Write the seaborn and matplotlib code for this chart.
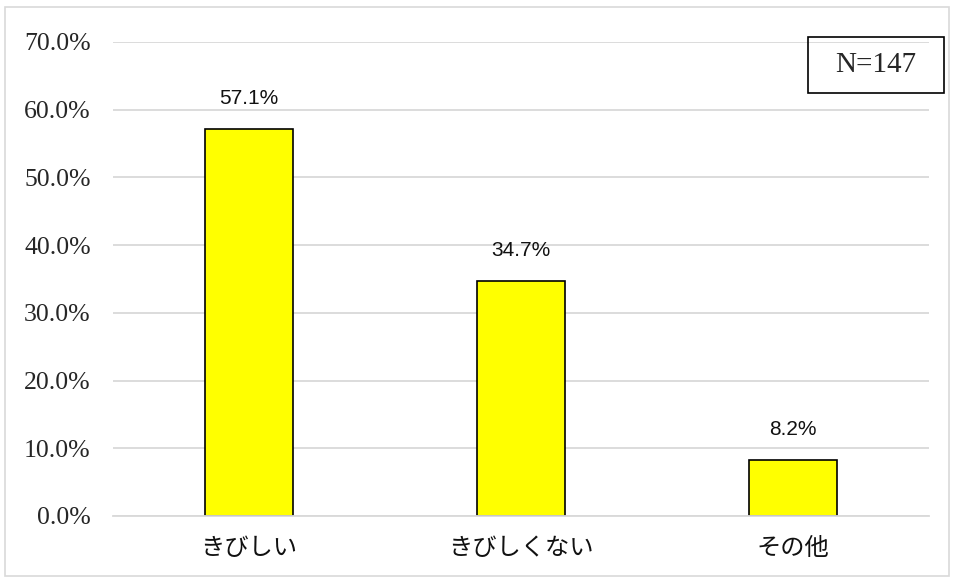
import matplotlib
matplotlib.use("Agg")
import matplotlib.pyplot as plt
import seaborn as sns
import pandas as pd
from matplotlib.patches import Rectangle

categories = ["きびしい", "きびしくない", "その他"]
values = [57.1, 34.7, 8.2]
value_labels = ["57.1%", "34.7%", "8.2%"]
yticks = [0, 10, 20, 30, 40, 50, 60, 70]
ytick_labels = ["0.0%", "10.0%", "20.0%", "30.0%", "40.0%", "50.0%", "60.0%", "70.0%"]
n_label = "N=147"

sns.set_theme(style="white")
plt.rcParams['font.family'] = ['Noto Sans CJK JP', 'DejaVu Sans']

df = pd.DataFrame({"cat": categories, "val": values})

fig = plt.figure(figsize=(9.54, 5.81), dpi=100)
W, H = 954, 581
ax = fig.add_axes([113 / W, 1 - 516 / H, (929 - 113) / W, (516 - 42) / H])

sns.barplot(data=df, x="cat", y="val", color="#FFFF00", width=0.32,
            edgecolor="black", linewidth=1.2, saturation=1, ax=ax)

ax.set_ylim(0, 70)
ax.set_xlim(-0.5, 2.5)
ax.set_yticks(yticks)
ax.set_yticklabels(ytick_labels, fontfamily=['Liberation Serif', 'DejaVu Serif'], fontsize=18.5)
ax.yaxis.grid(True, color="#D9D9D9", linewidth=1.3)
ax.set_axisbelow(True)
for s in ["top", "right", "left"]:
    ax.spines[s].set_visible(False)
ax.spines["bottom"].set_color("#D9D9D9")
ax.spines["bottom"].set_linewidth(1.3)
ax.tick_params(axis="y", length=0, pad=16)
ax.tick_params(axis="x", length=0, pad=14, labelsize=17.5)
for t in ax.get_xticklabels():
    t.set_color("#111111")
ax.set_xlabel("")
ax.set_ylabel("")

for i, (v, lab) in enumerate(zip(values, value_labels)):
    ax.annotate(lab, (i, v), xytext=(0, 22), textcoords="offset points",
                ha="center", va="center", fontsize=15, color="#111111",
                fontfamily=['Liberation Sans Narrow', 'Liberation Sans', 'DejaVu Sans'])

fig.text((808 + 944) / 2 / W, 1 - 65 / H, n_label, ha="center", va="center", fontsize=21,
         fontfamily=['Liberation Serif', 'DejaVu Serif'])
fig.patches.append(Rectangle((808 / W, 1 - 93 / H), (944 - 808) / W, (93 - 37) / H,
                             transform=fig.transFigure, fill=False, edgecolor="black", linewidth=1.2))
fig.patches.append(Rectangle((5 / W, 1 - 576 / H), (949 - 5) / W, (576 - 7) / H,
                             transform=fig.transFigure, fill=False, edgecolor="#D9D9D9", linewidth=1.2))

fig.savefig("out.png", dpi=100)
